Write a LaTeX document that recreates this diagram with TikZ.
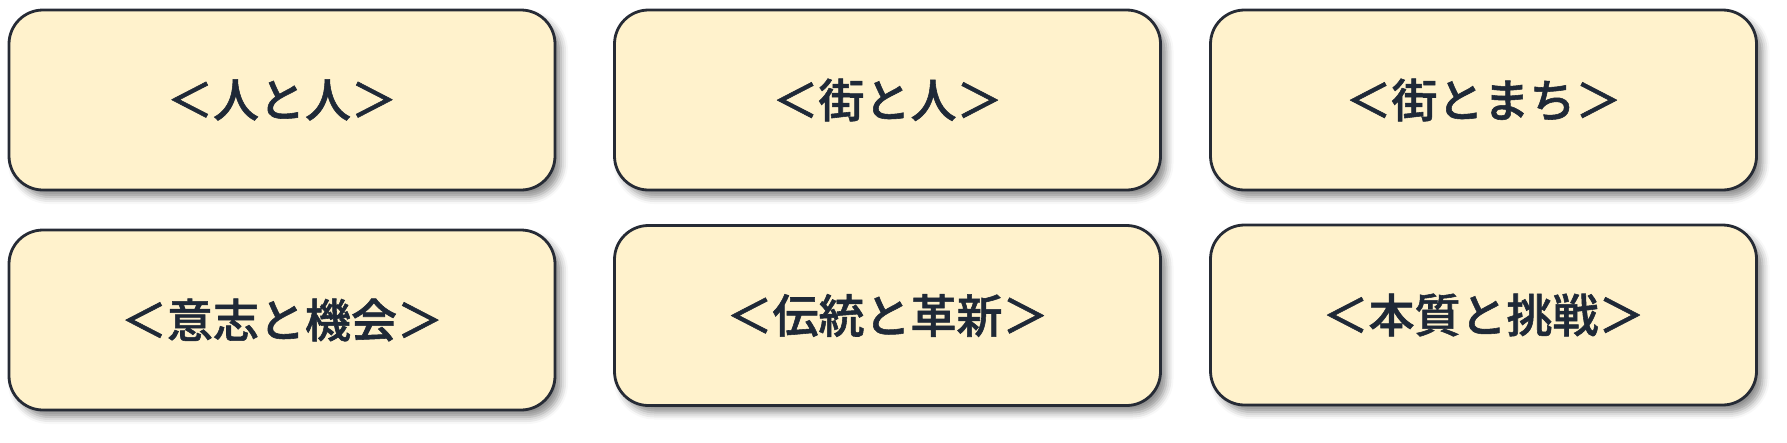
\documentclass[tikz,border=0pt]{standalone}
\usepackage{fontspec}
\newfontfamily\cjk{Noto Sans CJK JP}[UprightFont={* Medium}, FakeBold=1.2, BoldFont={* Medium}]
\usetikzlibrary{shadows.blur}
\definecolor{boxfill}{HTML}{FFF2CC}
\definecolor{boxline}{HTML}{262B35}
\definecolor{boxtext}{HTML}{1F2937}
\tikzset{
  card/.style={draw=boxline, line width=2.8pt, fill=boxfill, rounded corners=34pt,
    minimum width=546pt, minimum height=180pt, inner sep=0pt,
    text=boxtext, font=\cjk\bfseries\fontsize{46}{54}\selectfont,
    blur shadow={shadow xshift=6pt, shadow yshift=-7pt, shadow blur radius=7pt, shadow opacity=45}}
}
\begin{document}
\begin{tikzpicture}[x=1pt,y=-1pt]
\useasboundingbox (0,0) rectangle (1787,442);
\node[card] (a) at (282,100) {＜人と人＞};
\node[card] (b) at (887.5,100) {＜街と人＞};
\node[card] (c) at (1483.5,100) {＜街とまち＞};
\node[card] (d) at (282,320) {＜意志と機会＞};
\node[card] (e) at (887.5,315.5) {＜伝統と革新＞};
\node[card] (f) at (1483.5,315) {＜本質と挑戦＞};
\end{tikzpicture}
\end{document}
